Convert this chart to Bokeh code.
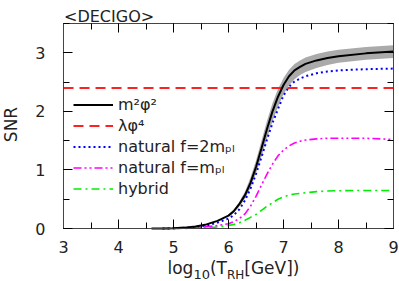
import math
from bokeh.plotting import figure
from bokeh.models import (Range1d, LinearAxis, SingleIntervalTicker, Legend, LegendItem, Label)
from bokeh.embed import file_html
from bokeh.resources import INLINE

# ---- data ----
x_m2phi2 = [4.6, 4.8, 5.0, 5.2, 5.4, 5.6, 5.8, 6.0, 6.1, 6.2, 6.3, 6.4, 6.5, 6.6, 6.7, 6.8, 6.9,
            7.0, 7.1, 7.2, 7.3, 7.4, 7.6, 7.8, 8.0, 8.5, 9.0]
snr_m2phi2 = [0.0, 0.002, 0.006, 0.015, 0.035, 0.07, 0.13, 0.22, 0.30, 0.42, 0.57, 0.78, 1.05, 1.37,
              1.70, 2.00, 2.25, 2.45, 2.60, 2.70, 2.76, 2.81, 2.87, 2.91, 2.94, 2.99, 3.02]

x_band = [6.0, 6.1, 6.2, 6.3, 6.4, 6.5, 6.6, 6.7, 6.8, 6.9, 7.0, 7.1, 7.2, 7.3, 7.4, 7.6, 7.8, 8.0, 8.5, 9.0]
band_lo = [0.20, 0.27, 0.38, 0.51, 0.69, 0.94, 1.23, 1.54, 1.83, 2.08, 2.29, 2.44, 2.55, 2.62, 2.67,
           2.74, 2.79, 2.83, 2.88, 2.91]
band_hi = [0.24, 0.33, 0.46, 0.63, 0.87, 1.16, 1.50, 1.84, 2.14, 2.38, 2.57, 2.71, 2.81, 2.87, 2.92,
           2.98, 3.02, 3.05, 3.10, 3.13]

x_lamphi4 = [3.0, 9.0]
snr_lamphi4 = [2.4, 2.4]

x_nat2 = [4.8, 5.0, 5.2, 5.4, 5.6, 5.8, 6.0, 6.1, 6.2, 6.3, 6.4, 6.5, 6.6, 6.7, 6.8, 6.9,
          7.0, 7.1, 7.2, 7.3, 7.4, 7.6, 7.8, 8.0, 8.5, 9.0]
snr_nat2 = [0.0, 0.003, 0.01, 0.025, 0.05, 0.10, 0.17, 0.23, 0.33, 0.48, 0.68, 0.93, 1.22, 1.52,
            1.80, 2.04, 2.27, 2.42, 2.51, 2.56, 2.60, 2.65, 2.68, 2.70, 2.72, 2.73]

x_nat1 = [4.8, 5.0, 5.2, 5.4, 5.6, 5.8, 6.0, 6.1, 6.2, 6.3, 6.4, 6.5, 6.6, 6.7, 6.8, 6.9,
          7.0, 7.1, 7.2, 7.3, 7.4, 7.6, 7.8, 8.0, 8.5, 9.0]
snr_nat1 = [0.0, 0.002, 0.006, 0.015, 0.03, 0.05, 0.08, 0.12, 0.17, 0.25, 0.38, 0.55, 0.74, 0.93,
            1.10, 1.24, 1.34, 1.41, 1.46, 1.49, 1.51, 1.53, 1.54, 1.54, 1.54, 1.52]

x_hybrid = [5.0, 5.2, 5.4, 5.6, 5.8, 6.0, 6.1, 6.2, 6.3, 6.4, 6.5, 6.6, 6.7, 6.8, 6.9,
            7.0, 7.1, 7.2, 7.3, 7.4, 7.6, 7.8, 8.0, 8.5, 9.0]
snr_hybrid = [0.0, 0.002, 0.005, 0.012, 0.025, 0.05, 0.07, 0.10, 0.14, 0.19, 0.24, 0.31, 0.38,
              0.44, 0.50, 0.54, 0.57, 0.59, 0.60, 0.61, 0.63, 0.64, 0.645, 0.65, 0.65]

legend_labels = ["m²φ²", "λφ⁴", "natural f=2mₚₗ", "natural f=mₚₗ", "hybrid"]
x_lim = (3, 9)
y_lim = (0, 3.5)

FONT = "DejaVu Sans"
W, H = 399, 281
# pixel box of the axes inside the picture
FL, FR, FT, FB = 63, 393, 23, 228
kx = (x_lim[1] - x_lim[0]) / (FR - FL)
ky = (y_lim[1] - y_lim[0]) / (FB - FT)
xr = Range1d(x_lim[0] - FL * kx, x_lim[1] + (W - FR) * kx)
yr = Range1d(y_lim[0] - (H - FB) * ky, y_lim[1] + FT * ky)

def px(xp):   # picture pixel -> data x (for text placement)
    return x_lim[0] + (xp - FL) * kx

def py(yp):   # picture pixel -> data y (for text placement)
    return y_lim[0] + (FB - yp) * ky

p = figure(width=W, height=H, x_range=xr, y_range=yr, output_backend="svg",
           toolbar_location=None, title=None, x_axis_type=None, y_axis_type=None,
           min_border=0)
p.xgrid.visible = False
p.ygrid.visible = False
p.outline_line_color = None
p.background_fill_color = "white"
p.border_fill_color = "white"

def make_axis(fixed, labels):
    ax = LinearAxis(ticker=SingleIntervalTicker(interval=1, num_minor_ticks=2),
                    fixed_location=fixed)
    ax.axis_line_color = "#444444"
    ax.axis_line_width = 1
    ax.major_tick_in = 9
    ax.major_tick_out = 0
    ax.minor_tick_in = 6
    ax.minor_tick_out = 0
    ax.major_tick_line_color = "black"
    ax.minor_tick_line_color = "black"
    ax.major_label_text_font = FONT
    ax.major_label_text_font_size = "16px"
    ax.major_label_text_color = "#222222"
    if not labels:
        ax.major_label_text_alpha = 0
    return ax

bottom = make_axis(y_lim[0], True)
bottom.bounds = x_lim
bottom.major_label_standoff = 12
top = make_axis(y_lim[1], False)
top.bounds = x_lim
left = make_axis(x_lim[0], True)
left.bounds = y_lim
left.major_label_standoff = 18
right = make_axis(x_lim[1], False)
right.bounds = y_lim
p.add_layout(bottom, "below")
p.add_layout(top, "above")
p.add_layout(left, "left")
p.add_layout(right, "right")

# data
p.varea(x=x_band, y1=band_lo, y2=band_hi, fill_color="#aaaaaa", fill_alpha=1.0)
r_red = p.line(x_lamphi4, snr_lamphi4, line_color="#ff2020", line_width=2, line_dash="10 6")
r_green = p.line(x_hybrid, snr_hybrid, line_color="#00ee00", line_width=1.6, line_dash="8 4 2 4")
r_mag = p.line(x_nat1, snr_nat1, line_color="#ff00ff", line_width=1.6, line_dash="8 3 2 3 2 3")
r_blue = p.line(x_nat2, snr_nat2, line_color="#0000ff", line_width=2, line_dash="2 3")
r_black = p.line(x_m2phi2, snr_m2phi2, line_color="black", line_width=2)

legend = Legend(items=[LegendItem(label=legend_labels[0], renderers=[r_black]),
                       LegendItem(label=legend_labels[1], renderers=[r_red]),
                       LegendItem(label=legend_labels[2], renderers=[r_blue]),
                       LegendItem(label=legend_labels[3], renderers=[r_mag]),
                       LegendItem(label=legend_labels[4], renderers=[r_green])],
                location=(73, 82))
legend.border_line_alpha = 0
legend.background_fill_alpha = 0
legend.padding = 0
legend.margin = 0
legend.spacing = 0
legend.glyph_width = 40
legend.glyph_height = 21
legend.label_height = 21
legend.label_standoff = 5
legend.label_text_font = FONT
legend.label_text_font_size = "16px"
legend.label_text_color = "#222222"
legend.label_text_baseline = "middle"
p.add_layout(legend)

def lab(xp, yp, text, size="16px", **kw):
    p.add_layout(Label(x=px(xp), y=py(yp), text=text, text_font=FONT, text_font_size=size,
                       text_color="#222222", **kw))

# title
lab(63.5, 15.5, "<DECIGO>", "16px", text_align="left", text_baseline="alphabetic")
# y label
lab(10, 124, "SNR", "17px", angle=math.pi / 2, text_align="center", text_baseline="middle")
# x label pieces
lab(167, 267.5, "log", "17px", text_align="left", text_baseline="alphabetic")
lab(192.9, 273.5, "10", "13px", text_align="left", text_baseline="alphabetic")
lab(209.4, 267.5, "(T", "17px", text_align="left", text_baseline="alphabetic")
lab(226.4, 274, "RH", "12px", text_align="left", text_baseline="alphabetic")
lab(243.8, 267.5, "[GeV])", "17px", text_align="left", text_baseline="alphabetic")

open("out.html", "w").write(file_html(p, INLINE))
